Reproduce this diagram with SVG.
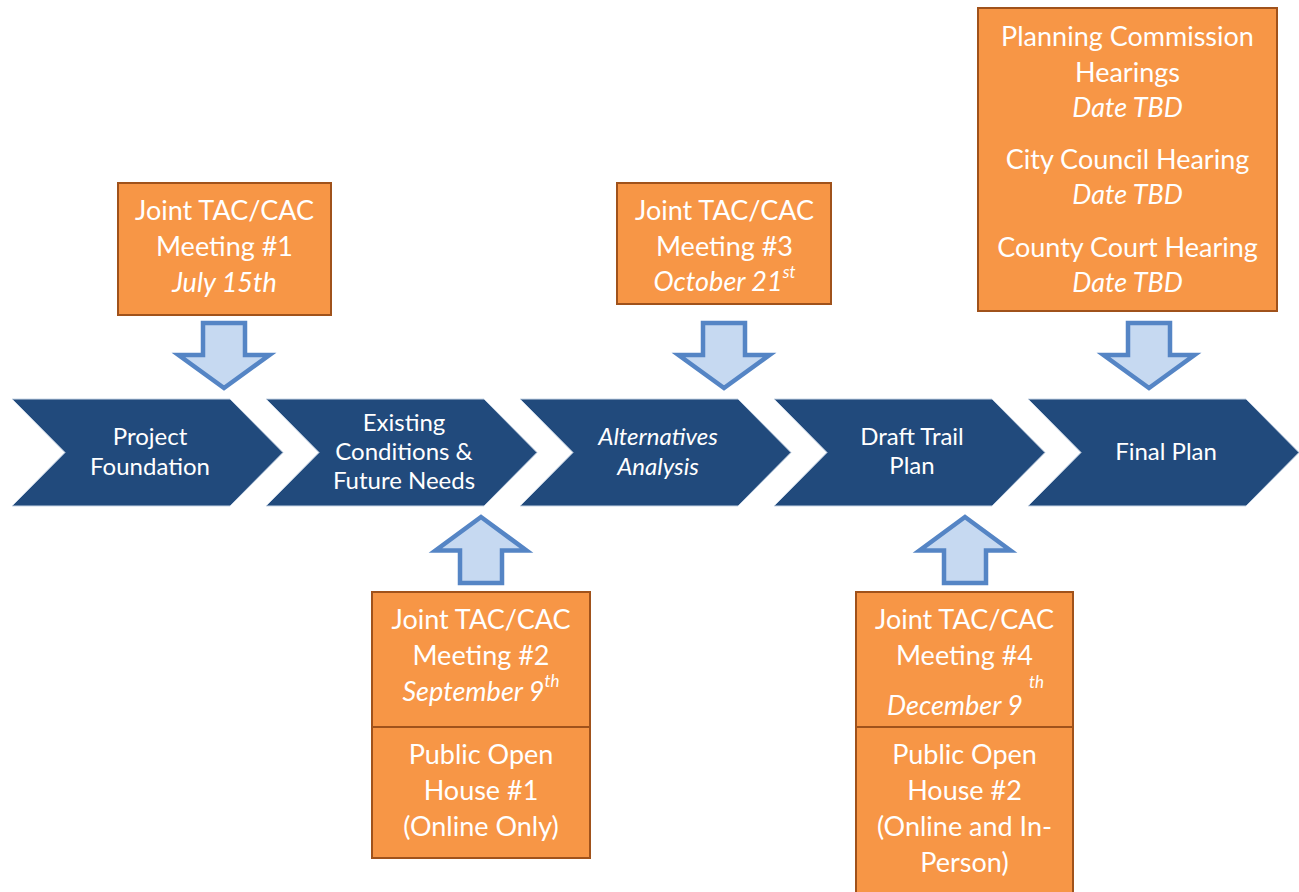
<svg xmlns="http://www.w3.org/2000/svg" width="1299" height="892" viewBox="0 0 1299 892">
<style>
.chev{fill:#214a7c;stroke:#c9d6e6;stroke-width:1}
.box{fill:#f79646;stroke:#a0521b;stroke-width:2}
.arr{fill:#c6d9f1;stroke:#5585c5;stroke-width:4.5;stroke-linejoin:miter;stroke-miterlimit:10}
.ct{font-family:Lato,"Open Sans","Liberation Sans",sans-serif;font-size:24px;fill:#ffffff;text-anchor:middle}
.bt{font-family:Lato,"Open Sans","Liberation Sans",sans-serif;font-size:27px;fill:#ffffff;text-anchor:middle}
.it{font-style:italic}
.sup{font-size:17px}
</style>
<rect width="1299" height="892" fill="#ffffff"/>
<g id="chevrons">
<g id="chev1"><polygon class="chev" points="12,399 230,399 283,452.5 230,506 12,506 65,452.5"/>
<text class="ct" x="150" y="445">Project</text><text class="ct" x="150" y="475">Foundation</text></g>
<g id="chev2"><polygon class="chev" points="266,399 484,399 537,452.5 484,506 266,506 319,452.5"/>
<text class="ct" x="404" y="431">Existing</text><text class="ct" x="404" y="460">Conditions &amp;</text><text class="ct" x="404" y="489">Future Needs</text></g>
<g id="chev3"><polygon class="chev" points="520,399 738,399 791,452.5 738,506 520,506 573,452.5"/>
<text class="ct it" x="658" y="445">Alternatives</text><text class="ct it" x="658" y="475">Analysis</text></g>
<g id="chev4"><polygon class="chev" points="774,399 992,399 1045,452.5 992,506 774,506 827,452.5"/>
<text class="ct" x="912" y="445">Draft Trail</text><text class="ct" x="912" y="474">Plan</text></g>
<g id="chev5"><polygon class="chev" points="1028,399 1246,399 1299,452.5 1246,506 1028,506 1081,452.5"/>
<text class="ct" x="1166" y="460">Final Plan</text></g>
</g>
<g id="connectors">
<path class="arr" d="M203,323 H245 V355 H269.5 L224,388 L178.5,355 H203 Z"/>
<path class="arr" d="M703,323 H745 V355 H769.5 L724,388 L678.5,355 H703 Z"/>
<path class="arr" d="M1128,323 H1170 V355 H1194.5 L1149,388 L1103.5,355 H1128 Z"/>
<path class="arr" d="M481,517 L526.5,550.5 H502 V583 H460 V550.5 H435.5 Z"/>
<path class="arr" d="M965,517 L1010.5,550.5 H986 V583 H944 V550.5 H919.5 Z"/>
</g>
<g id="box1"><rect class="box" x="118" y="183" width="213" height="132"/>
<text class="bt" x="224.5" y="220">Joint TAC/CAC</text><text class="bt" x="224.5" y="256">Meeting #1</text><text class="bt it" x="224.5" y="292">July 15th</text></g>
<g id="box3"><rect class="box" x="617" y="183" width="214" height="121"/>
<text class="bt" x="724.5" y="220">Joint TAC/CAC</text><text class="bt" x="724.5" y="256">Meeting #3</text><text class="bt it" x="724.5" y="291">October 21<tspan class="sup" dy="-13">st</tspan></text></g>
<g id="box5"><rect class="box" x="978" y="8" width="299" height="303"/>
<text class="bt" x="1127.5" y="46">Planning Commission</text><text class="bt" x="1127.5" y="82">Hearings</text><text class="bt it" x="1127.5" y="117">Date TBD</text>
<text class="bt" x="1127.5" y="169">City Council Hearing</text><text class="bt it" x="1127.5" y="204">Date TBD</text>
<text class="bt" x="1127.5" y="257">County Court Hearing</text><text class="bt it" x="1127.5" y="292">Date TBD</text></g>
<g id="box2"><rect class="box" x="372" y="592" width="218" height="135"/><rect class="box" x="372" y="727" width="218" height="131"/>
<text class="bt" x="481" y="629">Joint TAC/CAC</text><text class="bt" x="481" y="665">Meeting #2</text><text class="bt it" x="481" y="701">September 9<tspan class="sup" dy="-14">th</tspan></text>
<text class="bt" x="481" y="764">Public Open</text><text class="bt" x="481" y="800">House #1</text><text class="bt" x="481" y="836">(Online Only)</text></g>
<g id="box4"><rect class="box" x="856" y="592" width="217" height="135"/><rect class="box" x="856" y="727" width="217" height="170"/>
<text class="bt" x="964.5" y="629">Joint TAC/CAC</text><text class="bt" x="964.5" y="665">Meeting #4</text>
<text class="bt it" x="887" y="715" style="text-anchor:start">December 9</text><text class="bt it sup" x="1029" y="688" style="text-anchor:start">th</text>
<text class="bt" x="964.5" y="764">Public Open</text><text class="bt" x="964.5" y="800">House #2</text><text class="bt" x="964.5" y="836">(Online and In-</text><text class="bt" x="964.5" y="872">Person)</text></g>
</svg>
